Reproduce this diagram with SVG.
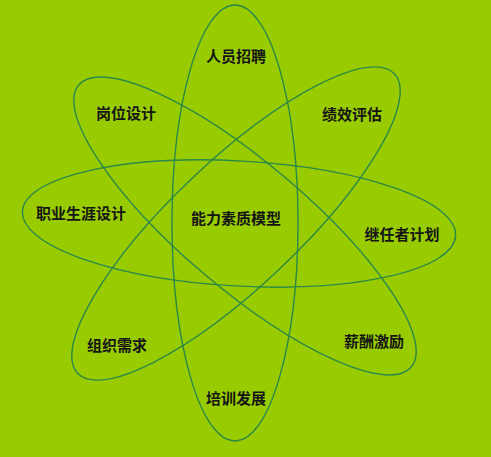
<svg xmlns="http://www.w3.org/2000/svg" width="491" height="457" viewBox="0 0 491 457">
<style>
.ring{fill:none;stroke:#2a8848;stroke-width:1.4}
.lbl{font-family:"Noto Sans CJK SC","Liberation Sans",sans-serif;font-size:15px;fill:#151515;text-anchor:middle;dominant-baseline:central;font-weight:700}
</style>
<rect width="491" height="457" fill="#99cc00"/>
<g id="connectors">
<ellipse class="ring" cx="235" cy="223" rx="63" ry="218"/>
<ellipse class="ring" cx="239" cy="223.5" rx="217" ry="62.5" transform="rotate(3.2 239 223.5)"/>
<ellipse class="ring" cx="245" cy="226" rx="218" ry="63" transform="rotate(40.3 245 226)"/>
<ellipse class="ring" cx="236" cy="223.5" rx="218" ry="63" transform="rotate(-43.4 236 223.5)"/>
</g>
<g id="center"><text class="lbl" x="236" y="217">能力素质模型</text></g>
<g id="recruit"><text class="lbl" x="236" y="55">人员招聘</text></g>
<g id="jobdesign"><text class="lbl" x="126" y="112">岗位设计</text></g>
<g id="performance"><text class="lbl" x="352" y="113">绩效评估</text></g>
<g id="career"><text class="lbl" x="81" y="212">职业生涯设计</text></g>
<g id="succession"><text class="lbl" x="402" y="233">继任者计划</text></g>
<g id="orgneeds"><text class="lbl" x="117" y="344">组织需求</text></g>
<g id="compensation"><text class="lbl" x="374" y="340">薪酬激励</text></g>
<g id="training"><text class="lbl" x="236" y="397">培训发展</text></g>
</svg>
